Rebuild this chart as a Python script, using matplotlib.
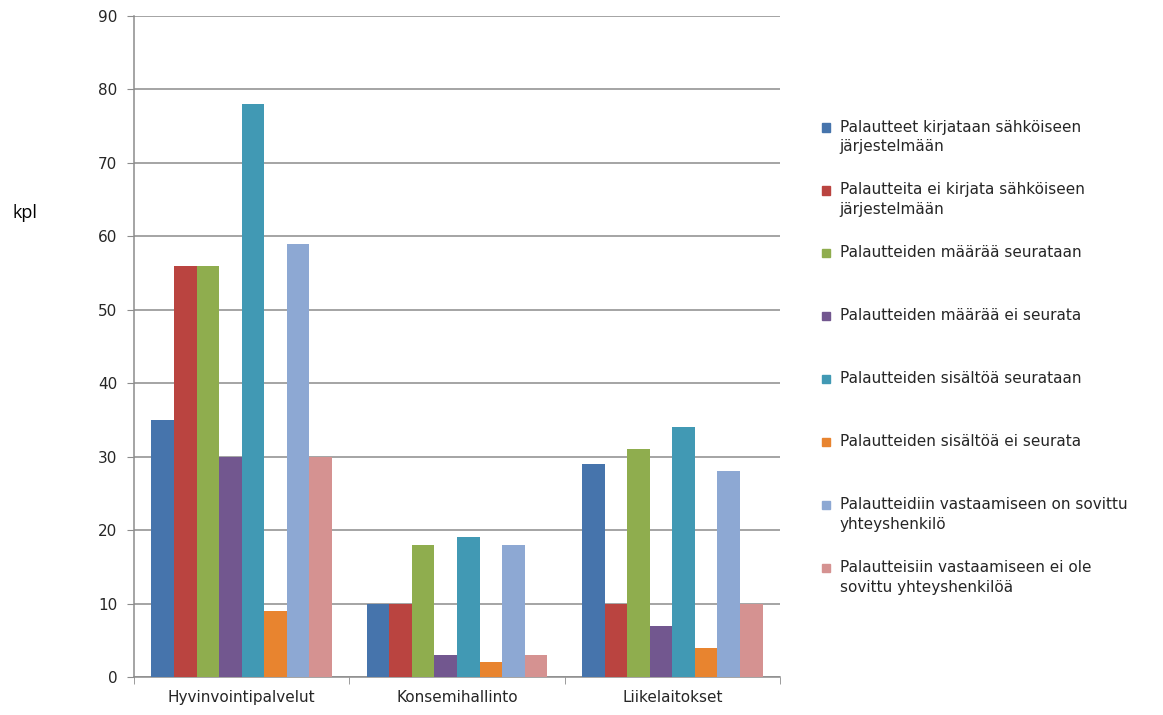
import numpy as np
import matplotlib
matplotlib.use("Agg")
import matplotlib.pyplot as plt
import matplotlib.patches as mpatches
from matplotlib.legend_handler import HandlerPatch

# data
categories = ["Hyvinvointipalvelut", "Konsemihallinto", "Liikelaitokset"]
series_names = [
    "Palautteet kirjataan sähköiseen\njärjestelmään",
    "Palautteita ei kirjata sähköiseen\njärjestelmään",
    "Palautteiden määrää seurataan",
    "Palautteiden määrää ei seurata",
    "Palautteiden sisältöä seurataan",
    "Palautteiden sisältöä ei seurata",
    "Palautteidiin vastaamiseen on sovittu\nyhteyshenkilö",
    "Palautteisiin vastaamiseen ei ole\nsovittu yhteyshenkilöä",
]
kirjataan = [35, 10, 29]
ei_kirjata = [56, 10, 10]
maara_seurataan = [56, 18, 31]
maara_ei = [30, 3, 7]
sisalto_seurataan = [78, 19, 34]
sisalto_ei = [9, 2, 4]
yhteyshenkilo = [59, 18, 28]
ei_yhteyshenkiloa = [30, 3, 10]
values = [kirjataan, ei_kirjata, maara_seurataan, maara_ei,
          sisalto_seurataan, sisalto_ei, yhteyshenkilo, ei_yhteyshenkiloa]
colors = ["#4674AC", "#BA4440", "#8FAD4E", "#72578F",
          "#4199B4", "#E8842F", "#8DA8D3", "#D59291"]

plt.rcParams['font.family'] = 'DejaVu Sans'
txt_color = "#262626"
grid_color = "#8C8C8C"

fig = plt.figure(figsize=(11.63, 7.15), dpi=100)
ax = fig.add_axes([0.1152, 0.0531, 0.5555, 0.9245])

x = np.arange(len(categories))
w = 0.1047
handles = []
for i, (vals, col) in enumerate(zip(values, colors)):
    ax.bar(x + (i - 3.5) * w, vals, width=w, color=col, linewidth=0, zorder=3)
    handles.append(mpatches.Patch(color=col))

ax.set_xlim(-0.5, 2.5)
ax.set_ylim(0, 90)
ax.set_yticks(range(0, 91, 10))
ax.yaxis.grid(True, color=grid_color, linewidth=1.1, zorder=0)
ax.set_xticks(x)
ax.set_xticklabels(categories)
ax.set_xticks([-0.5, 0.5, 1.5, 2.5], minor=True)
ax.tick_params(axis='x', which='major', length=0, pad=9, labelsize=11, labelcolor=txt_color)
ax.tick_params(axis='x', which='minor', length=5, color=grid_color, direction='out')
ax.tick_params(axis='y', length=5, color=grid_color, pad=7, labelsize=11, labelcolor=txt_color)
for s in ['top', 'right']:
    ax.spines[s].set_visible(False)
for s in ['left', 'bottom']:
    ax.spines[s].set_color(grid_color)
    ax.spines[s].set_linewidth(1.1)

fig.text(0.011, 0.702, "kpl", fontsize=13, family='Open Sans', color='black', va='center')


# small square aligned with the first line of the label
def top_square(legend, orig_handle, xdescent, ydescent, width, height, fontsize):
    s = 0.55 * fontsize
    return mpatches.Rectangle((-xdescent, -ydescent + height - s + 0.05 * fontsize), s, s)


labels = [n if "\n" in n else n + "\n " for n in series_names]
leg = fig.legend(handles, labels, loc='upper left', bbox_to_anchor=(0.695, 0.852),
                 frameon=False, fontsize=11, labelspacing=1.84,
                 handlelength=0.55, handleheight=2.5, handletextpad=0.6,
                 handler_map={mpatches.Patch: HandlerPatch(patch_func=top_square)})
for t in leg.get_texts():
    t.set_color(txt_color)
    t.set_linespacing(1.4)

fig.savefig("out.png", dpi=100)
